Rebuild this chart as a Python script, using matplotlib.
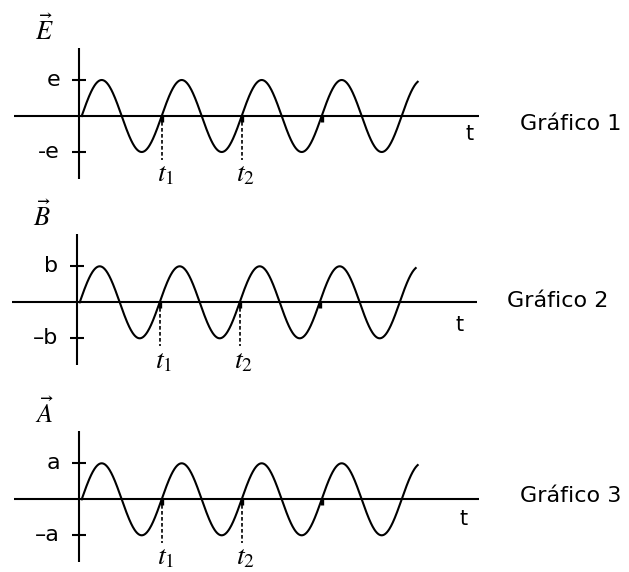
import numpy as np
import matplotlib
matplotlib.use("Agg")
import matplotlib.pyplot as plt

plt.rcParams["mathtext.fontset"] = "stix"
plt.rcParams["font.family"] = ["DejaVu Sans"]

# Signal description: each panel shows the same sinusoid of period T
field_labels = [r"$\vec{E}$", r"$\vec{B}$", r"$\vec{A}$"]
amp_labels_pos = ["e", "b", "a"]
amp_labels_neg = ["-e", "\u2013b", "\u2013a"]
panel_titles = ["Gr\u00e1fico 1", "Gr\u00e1fico 2", "Gr\u00e1fico 3"]
period = 1.0
amplitude = 1.0
t_end = 4.2
marked_times = [1.0, 2.0]          # t1, t2
marked_labels = [r"$t_1$", r"$t_2$"]
crossing_marks = [1.0, 2.0, 3.0]

W, H = 629, 572
fig = plt.figure(figsize=(W / 100, H / 100), dpi=100)

# pixel placement of each panel's origin and the scale of one unit
origins = [(81.7, 116.0), (79.7, 302.3), (81.7, 499.3)]
sx, sy = 80.0, 36.0
xlim = (-1.0, 5.0)
ylim = (-2.0, 2.3)
title_pos = [(5.48, -0.39), (5.34, -0.13), (5.48, -0.07)]
t_label_pos = [(4.80, -0.51), (4.70, -0.62), (4.72, -0.56)]

axis_x = -0.03
lw = 1.5

for i, (ox, oy) in enumerate(origins):
    left = ox + xlim[0] * sx
    right = ox + xlim[1] * sx
    top = oy - ylim[1] * sy
    bottom = oy - ylim[0] * sy
    ax = fig.add_axes([left / W, 1 - bottom / H, (right - left) / W, (bottom - top) / H])
    ax.set_xlim(*xlim)
    ax.set_ylim(*ylim)
    ax.axis("off")

    # axes
    ax.plot([axis_x - 0.8125, axis_x + 5.0], [0, 0], color="black", lw=lw, solid_capstyle="butt")
    ax.plot([axis_x, axis_x], [-1.74, 1.90], color="black", lw=lw, solid_capstyle="butt")
    for yv in (amplitude, -amplitude):
        ax.plot([axis_x - 0.0875, axis_x + 0.0875], [yv, yv], color="black", lw=lw,
                solid_capstyle="butt")

    # waveform
    t = np.linspace(0, t_end, 1000)
    ax.plot(t, amplitude * np.sin(2 * np.pi * t / period), color="black", lw=lw)

    # marks where the curve crosses at whole periods
    for tc in crossing_marks:
        ax.plot([tc, tc], [0, -0.17], color="black", lw=2.4, solid_capstyle="butt")

    # dashed guides for t1 and t2
    for tm, lab in zip(marked_times, marked_labels):
        ax.plot([tm, tm], [0, -1.22], color="black", lw=1.2, linestyle=(0, (2.2, 1.4)))
        ax.text(tm + 0.05, -1.6, lab, fontsize=20, ha="center", va="center")

    # labels
    ax.text(-0.59, 2.12, field_labels[i], fontsize=19, ha="left", va="baseline")
    ax.text(-0.27, amplitude - 0.17, amp_labels_pos[i], fontsize=16, ha="right", va="baseline")
    ax.text(-0.27, -amplitude - 0.17, amp_labels_neg[i], fontsize=16, ha="right", va="baseline")
    ax.text(t_label_pos[i][0], t_label_pos[i][1], "t", fontsize=15, ha="left", va="center")
    ax.text(title_pos[i][0], title_pos[i][1], panel_titles[i], fontsize=16, ha="left",
            va="baseline")

fig.savefig("out.png", dpi=100, facecolor="white")
